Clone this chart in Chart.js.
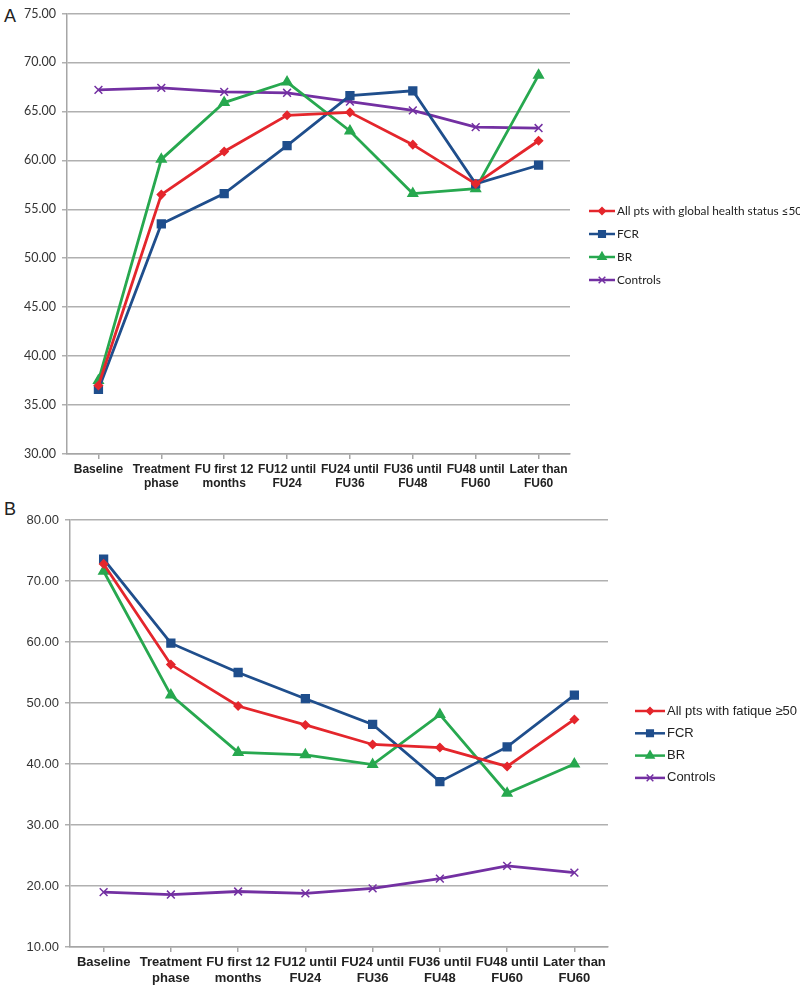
<!DOCTYPE html>
<html>
<head>
<meta charset="utf-8">
<script src="https://cdn.jsdelivr.net/npm/chart.js@4/dist/chart.umd.min.js"></script>
<style>
  body { margin: 0; background: #fff; }
  #wrap { position: relative; width: 800px; height: 988px; }
  .panel { position: absolute; left: 0; width: 800px; }
  .tag { position: absolute; left: 4px; font: 18px "Liberation Sans", Arial, sans-serif; color: #222; }
</style>
</head>
<body>
<div id="wrap">
  <div class="tag" style="top:6px">A</div>
  <div class="tag" style="top:499px">B</div>
  <div class="panel" style="top:0;height:490px"><canvas id="chartA"></canvas></div>
  <div class="panel" style="top:490px;height:498px"><canvas id="chartB"></canvas></div>
</div>
<script>
const categories = [
  ["Baseline"], ["Treatment", "phase"], ["FU first 12", "months"], ["FU12 until", "FU24"],
  ["FU24 until", "FU36"], ["FU36 until", "FU48"], ["FU48 until", "FU60"], ["Later than", "FU60"]
];

// panel A - global health status
const labelsA = ["All pts with global health status \u226450", "FCR", "BR", "Controls"];
const allPtsA = [37.0, 56.5, 60.9, 64.6, 64.9, 61.6, 57.6, 62.0];
const fcrA = [36.6, 53.5, 56.6, 61.5, 66.6, 67.1, 57.6, 59.5];
const brA = [37.5, 60.1, 65.9, 68.0, 63.0, 56.6, 57.1, 68.7];
const controlsA = [67.2, 67.4, 67.0, 66.9, 66.0, 65.1, 63.4, 63.3];
const ticksA = { min: 30, max: 75, step: 5 };

// panel B - fatigue
const labelsB = ["All pts with fatique \u226550", "FCR", "BR", "Controls"];
const allPtsB = [72.8, 56.3, 49.5, 46.4, 43.2, 42.7, 39.6, 47.3];
const fcrB = [73.6, 59.8, 55.0, 50.7, 46.5, 37.1, 42.8, 51.3];
const brB = [71.6, 51.3, 41.9, 41.5, 39.9, 48.1, 35.2, 40.0];
const controlsB = [19.0, 18.6, 19.1, 18.8, 19.6, 21.2, 23.3, 22.2];
const ticksB = { min: 10, max: 80, step: 10 };

const styles = [
  { color: "#E4262C", pointStyle: "rectRot", radius: 4 },
  { color: "#1F4E8C", pointStyle: "rect", radius: 5.5 },
  { color: "#27A84F", pointStyle: "triangle", radius: 5.5 },
  { color: "#7330A2", pointStyle: "crossRot", radius: 5.5 }
];

// draws the line+marker legend at a fixed spot
const sideLegend = {
  id: "sideLegend",
  afterDraw(chart, args, opts) {
    const c = chart.ctx;
    c.save();
    chart.data.datasets.forEach((ds, i) => {
      const y = opts.y + i * opts.gap;
      c.strokeStyle = ds.borderColor;
      c.fillStyle = ds.borderColor;
      c.lineWidth = 2.5;
      c.beginPath();
      c.moveTo(opts.x, y);
      c.lineTo(opts.x + opts.len, y);
      c.stroke();
      c.lineWidth = 1.5;
      Chart.helpers.drawPoint(c, { pointStyle: ds.pointStyle, radius: ds.pointRadius * 0.85, rotation: 0, borderWidth: 1.5 }, opts.x + opts.len / 2, y);
      c.fillStyle = "#222";
      c.font = opts.font;
      c.textBaseline = "middle";
      c.fillText(ds.label, opts.x + opts.len + 2, y);
    });
    c.restore();
  }
};

function makeChart(id, names, series, t, yFont, xSize, padding, axisW, axisH, legend) {
  new Chart(document.getElementById(id), {
    type: "line",
    data: {
      labels: categories,
      datasets: series.map((d, i) => ({
        label: names[i],
        data: d,
        borderColor: styles[i].color,
        backgroundColor: styles[i].color,
        pointBackgroundColor: styles[i].color,
        pointBorderColor: styles[i].color,
        pointStyle: styles[i].pointStyle,
        pointRadius: styles[i].radius,
        pointBorderWidth: 1.5,
        borderWidth: 2.8,
        tension: 0,
        fill: false
      }))
    },
    options: {
      responsive: true,
      maintainAspectRatio: false,
      animation: false,
      layout: { padding: padding },
      plugins: {
        legend: { display: false },
        tooltip: { enabled: false },
        sideLegend: legend
      },
      scales: {
        x: {
          offset: true,
          afterFit: (scale) => { scale.height = axisH; },
          ticks: {
            color: "#222",
            maxRotation: 0,
            autoSkip: false,
            padding: 3,
            font: { family: "'Liberation Sans', Arial, sans-serif", size: xSize, weight: "bold", lineHeight: 1.2 }
          },
          grid: { drawOnChartArea: false, drawTicks: true, tickLength: 5, color: "#A6A6A6", lineWidth: 1.5 },
          border: { color: "#A6A6A6", width: 1.5 }
        },
        y: {
          min: t.min,
          max: t.max,
          afterFit: (scale) => { scale.width = axisW; },
          ticks: {
            stepSize: t.step,
            color: "#333",
            padding: 6,
            font: yFont,
            callback: (v) => v.toFixed(2)
          },
          grid: { color: "#B0B0B0", lineWidth: 1.5, tickLength: 5 },
          border: { color: "#A6A6A6", width: 1.5 }
        }
      }
    },
    plugins: [sideLegend]
  });
}

makeChart("chartA", labelsA, [allPtsA, fcrA, brA, controlsA], ticksA,
  { family: "Lato, 'Open Sans', sans-serif", size: 12.5 }, 12,
  { left: 0, top: 7, right: 230, bottom: 0 }, 67, 36,
  { x: 589, y: 211, gap: 23, len: 26, font: "11.8px Lato, sans-serif" });

makeChart("chartB", labelsB, [allPtsB, fcrB, brB, controlsB], ticksB,
  { family: "'Liberation Sans', Arial, sans-serif", size: 13 }, 13,
  { left: 0, top: 30, right: 192, bottom: 0 }, 70, 41,
  { x: 635, y: 221, gap: 22.3, len: 30, font: "13px 'Liberation Sans', Arial, sans-serif" });
</script>
</body>
</html>
